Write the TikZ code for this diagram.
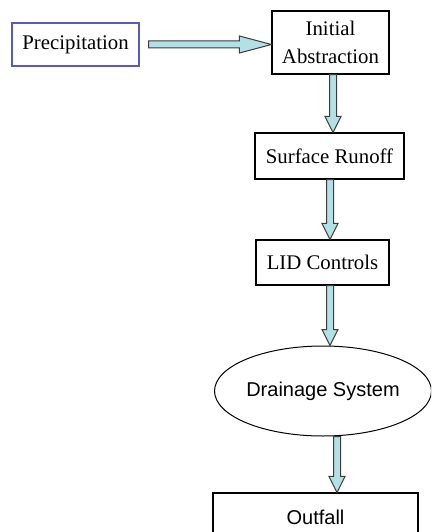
\documentclass[tikz,border=0pt]{standalone}
\usepackage{fontspec}
\setmainfont{Liberation Serif}
\newfontfamily\arialfont{Liberation Sans}
\usetikzlibrary{shapes.geometric,calc}
\definecolor{arrowfill}{RGB}{178,224,228}
\definecolor{arrowline}{RGB}{60,60,60}
\definecolor{precblue}{RGB}{90,90,190}
\tikzset{
  box/.style={draw=black, line width=1.1pt, rectangle, inner sep=0pt, font=\fontsize{20.8}{28}\selectfont, align=center},
  blk/.style={draw=arrowline, fill=arrowfill, line width=1pt, line join=miter},
}
\newcommand{\varrow}[3]{%
  \draw[blk] let \p1=(#1.south), \p2=(#2.north) in
   ({\x1+#3-3.5pt},\y1) -- ({\x1+#3-3.5pt},{\y2+16pt}) -- ({\x1+#3-8pt},{\y2+16pt}) --
   ({\x1+#3},\y2) -- ({\x1+#3+8pt},{\y2+16pt}) -- ({\x1+#3+3.5pt},{\y2+16pt}) --
   ({\x1+#3+3.5pt},\y1) -- cycle;}
\begin{document}
\begin{tikzpicture}[x=1pt,y=-1pt]
\useasboundingbox (0,0) rectangle (431,532);
\clip (0,0) rectangle (431,532);
\node[box, draw=precblue, minimum width=127pt, minimum height=43pt] (prec) at (75.5,44.5) {Precipitation};
\node[box, minimum width=117pt, minimum height=63pt] (ia) at (330.5,42.5) {Initial\\Abstraction};
\node[box, minimum width=149pt, minimum height=46pt] (sr) at (329.5,156) {Surface Runoff};
\node[box, minimum width=133pt, minimum height=45pt] (lid) at (322.5,262.5) {LID Controls};
\node[draw=black, line width=1pt, ellipse, inner sep=0pt, minimum width=216pt, minimum height=90pt, font=\arialfont\fontsize{20}{24}\selectfont] (ds) at (323,391) {Drainage System};
\node[draw=black, line width=1.1pt, rectangle, inner sep=0pt, minimum width=205pt, minimum height=50pt, font=\arialfont\fontsize{20}{24}\selectfont] (out) at (315.5,518) {\raisebox{2pt}{Outfall}};
% horizontal arrow
\draw[blk] let \p1=(prec.east), \p2=(ia.west) in
  ({\x1+9pt},{\y1+3.5pt}) -- ({\x2-32pt},{\y1+3.5pt}) -- ({\x2-32pt},{\y1+8.5pt}) --
  (\x2,\y1) -- ({\x2-32pt},{\y1-8.5pt}) -- ({\x2-32pt},{\y1-3.5pt}) --
  ({\x1+9pt},{\y1-3.5pt}) -- cycle;
\varrow{ia}{sr}{2.5pt}
\varrow{sr}{lid}{0.5pt}
\varrow{lid}{ds}{7.5pt}
\varrow{ds}{out}{14pt}
\end{tikzpicture}
\end{document}
